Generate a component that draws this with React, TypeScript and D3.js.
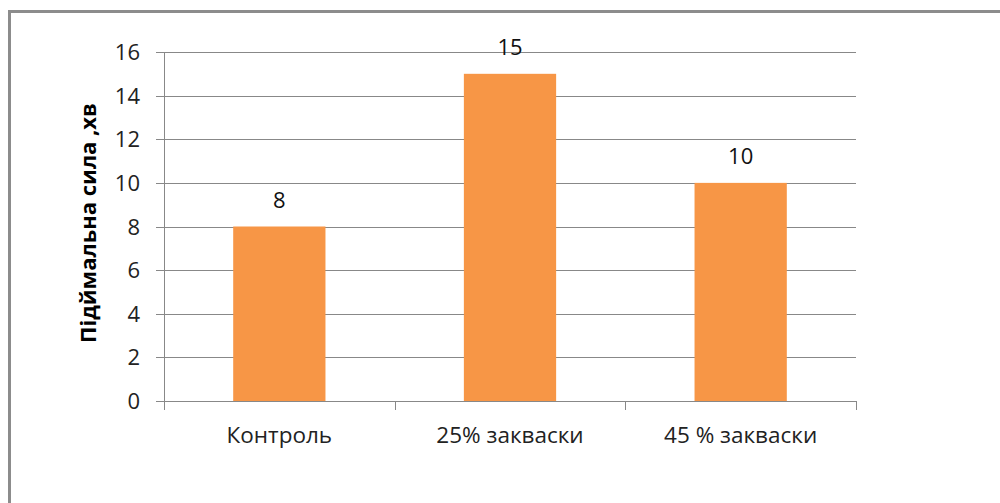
import React, { useEffect, useRef } from 'react'
import * as d3 from 'd3'

// chart data
const categories = ['Контроль', '25% закваски', '45 % закваски']
const values = [8, 15, 10]
const yTicks = [0, 2, 4, 6, 8, 10, 12, 14, 16]
const yTitle = 'Підймальна сила ,хв'

const width = 1000
const height = 503

export default function App() {
  const ref = useRef<SVGSVGElement>(null)

  useEffect(() => {
    const svg = d3.select(ref.current)
    svg.selectAll('*').remove()

    const left = 164, right = 856, top = 52, bottom = 401
    const font = '"Open Sans", sans-serif'

    // outer frame (only top and left edges are visible in the crop)
    svg.append('path')
      .attr('d', `M9.5,${height} L9.5,11.5 L${width},11.5`)
      .attr('fill', 'none')
      .attr('stroke', '#8c8c8c')
      .attr('stroke-width', 3)

    const x = d3.scaleBand().domain(categories).range([left, right]).paddingInner(0.6).paddingOuter(0.3)
    const y = d3.scaleLinear().domain([0, 16]).range([bottom, top])

    // gridlines + left ticks
    svg.append('g')
      .selectAll('line')
      .data(yTicks)
      .enter()
      .append('line')
      .attr('x1', left - 8)
      .attr('x2', right)
      .attr('y1', d => Math.round(y(d)) + 0.5)
      .attr('y2', d => Math.round(y(d)) + 0.5)
      .attr('stroke', '#888')
      .attr('stroke-width', 1)

    // y axis line
    svg.append('line')
      .attr('x1', left + 0.5).attr('x2', left + 0.5)
      .attr('y1', top).attr('y2', bottom)
      .attr('stroke', '#888')

    // y tick labels
    svg.append('g')
      .selectAll('text')
      .data(yTicks)
      .enter()
      .append('text')
      .attr('x', 140)
      .attr('y', d => y(d) + 8)
      .attr('text-anchor', 'end')
      .style('font-family', font)
      .style('font-size', '22px')
      .attr('fill', '#222')
      .text(d => d)

    // category boundary ticks on the x axis
    const step = (right - left) / categories.length
    svg.append('g')
      .selectAll('line')
      .data(d3.range(categories.length + 1))
      .enter()
      .append('line')
      .attr('x1', i => Math.round(left + i * step) + 0.5)
      .attr('x2', i => Math.round(left + i * step) + 0.5)
      .attr('y1', bottom)
      .attr('y2', bottom + 9)
      .attr('stroke', '#888')

    // bars
    svg.append('g')
      .selectAll('rect')
      .data(values)
      .enter()
      .append('rect')
      .attr('x', (d, i) => x(categories[i])!)
      .attr('y', d => y(d))
      .attr('width', x.bandwidth())
      .attr('height', d => bottom - y(d))
      .attr('fill', '#F79646')

    // value labels
    svg.append('g')
      .selectAll('text')
      .data(values)
      .enter()
      .append('text')
      .attr('x', (d, i) => x(categories[i])! + x.bandwidth() / 2)
      .attr('y', d => y(d) - 19)
      .attr('text-anchor', 'middle')
      .style('font-family', font)
      .style('font-size', '22px')
      .attr('fill', '#111')
      .text(d => d)

    // category labels
    svg.append('g')
      .selectAll('text')
      .data(categories)
      .enter()
      .append('text')
      .attr('x', d => x(d)! + x.bandwidth() / 2)
      .attr('y', 443)
      .attr('text-anchor', 'middle')
      .style('font-family', font)
      .style('font-size', '22.5px')
      .attr('fill', '#222')
      .text(d => d)

    // y axis title
    svg.append('text')
      .attr('transform', 'translate(96,223) rotate(-90)')
      .attr('text-anchor', 'middle')
      .style('font-family', font)
      .style('font-size', '22px')
      .style('font-weight', 'bold')
      .attr('fill', '#000')
      .text(yTitle)
  }, [])

  return (
    <div style={{ position: 'absolute', left: 0, top: 0 }}>
      <svg ref={ref} width={width} height={height} style={{ display: 'block', background: '#fff' }} />
    </div>
  )
}
